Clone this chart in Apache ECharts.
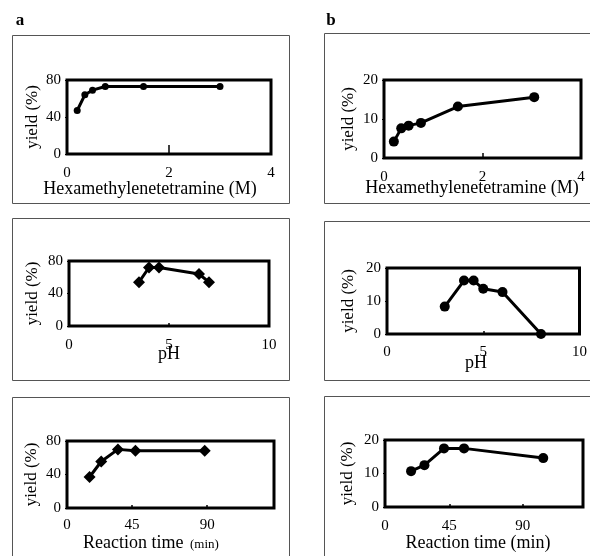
<!DOCTYPE html>
<html>
<head>
<meta charset="utf-8">
<script src="https://cdn.jsdelivr.net/npm/echarts@6/dist/echarts.min.js"></script>
<style>
  html, body { margin: 0; padding: 0; background: #fff; }
  #chart { width: 590px; height: 556px; }
</style>
</head>
<body>
<div id="chart"></div>
<script>
// ---- data ----
// a: top row, concentration of hexamethylenetetramine (M)
const hmtA = [0.2, 0.35, 0.5, 0.75, 1.5, 3.0]
const yieldHmtA = [47, 64, 69, 73, 73, 73]
// b: same concentrations
const hmtB = [0.2, 0.35, 0.5, 0.75, 1.5, 3.05]
const yieldHmtB = [4.2, 7.6, 8.3, 9.0, 13.2, 15.6]
// middle row, pH
const phA = [3.5, 4.0, 4.5, 6.5, 7.0]
const yieldPhA = [54, 72, 72, 64, 54]
const phB = [3.0, 4.0, 4.5, 5.0, 6.0, 8.0]
const yieldPhB = [8.3, 16.2, 16.2, 13.7, 12.7, 0]
// bottom row, reaction time (min)
const timeA = [19.5, 26.5, 36.5, 47, 88.5]
const yieldTimeA = [37, 55.5, 70, 68.5, 68.5]
const timeB = [21.5, 29.7, 41.7, 54, 102.6]
const yieldTimeB = [10.7, 12.5, 17.5, 17.5, 14.6]

// tick labels
const yTicksA = [0, 40, 80]
const yTicksB = [0, 10, 20]
const hmtTicks = [0, 2, 4]
const phTicks = [0, 5, 10]
const timeTicks = [45, 90]

const serif = '"Liberation Serif", "Times New Roman", serif'
const timeMinA = 6, timeMinB = 5.5

const grids = [
    { left: 67, top: 80, width: 204, height: 74 },
    { left: 384, top: 80, width: 197, height: 78 },
    { left: 69, top: 261, width: 200, height: 65 },
    { left: 387, top: 268, width: 195, height: 66 },
    { left: 67, top: 441, width: 207, height: 67 },
    { left: 385, top: 440, width: 198, height: 67 }
].map(g => Object.assign({ show: true, borderColor: '#000', borderWidth: 3, backgroundColor: 'transparent' }, g))

function xAxis(idx, min, max, interval, tickLen, margin, extra) {
    return Object.assign({
        type: 'value', gridIndex: idx, min, max, interval,
        axisLine: { show: false },
        splitLine: { show: false },
        axisTick: { show: true, inside: true, length: tickLen, lineStyle: { color: '#000', width: 1.5 } },
        axisLabel: { color: '#000', fontFamily: serif, fontSize: 15, margin, showMinLabel: true, showMaxLabel: true }
    }, extra || {})
}

function yAxis(idx, ticks, gap) {
    return {
        type: 'value', gridIndex: idx, min: ticks[0], max: ticks[ticks.length - 1],
        interval: ticks[1] - ticks[0],
        name: 'yield (%)', nameLocation: 'middle', nameGap: gap,
        nameTextStyle: { color: '#000', fontFamily: serif, fontSize: 17 },
        axisLine: { show: false },
        splitLine: { show: false },
        axisTick: { show: true, length: 2, lineStyle: { color: '#000' } },
        axisLabel: { color: '#000', fontFamily: serif, fontSize: 15, margin: 6 }
    }
}

function timeAxis(idx, min, max, margin) {
    return xAxis(idx, min, max, null, 3, margin, {
        axisTick: { show: true, inside: true, length: 3, customValues: timeTicks, lineStyle: { color: '#000', width: 1.5 } },
        axisLabel: {
            color: '#000', fontFamily: serif, fontSize: 15, margin,
            customValues: [min].concat(timeTicks),
            formatter: v => (v === min ? '0' : String(v))
        }
    })
}

function series(idx, xs, ys, symbol, size) {
    return {
        type: 'line', xAxisIndex: idx, yAxisIndex: idx,
        data: xs.map((x, i) => [x, ys[i]]),
        symbol, symbolSize: size, showSymbol: true, clip: false,
        lineStyle: { color: '#000', width: 3 },
        itemStyle: { color: '#000' },
        animation: false
    }
}

function box(x, y, w, h) {
    return { type: 'rect', shape: { x, y, width: w, height: h }, style: { fill: 'none', stroke: '#555', lineWidth: 1 }, silent: true }
}
function label(text, x, y, size, weight, align) {
    return {
        type: 'text', x, y, silent: true,
        style: { text, fill: '#000', font: (weight || 'normal') + ' ' + size + 'px ' + serif, textAlign: align || 'center', textVerticalAlign: 'middle' }
    }
}

const chart = echarts.init(document.getElementById('chart'), null, { renderer: 'canvas' })
chart.setOption({
    animation: false,
    grid: grids,
    xAxis: [
        xAxis(0, hmtTicks[0], hmtTicks[2], hmtTicks[1], 9, 12),
        xAxis(1, hmtTicks[0], hmtTicks[2], hmtTicks[1], 5, 12),
        xAxis(2, phTicks[0], phTicks[2], phTicks[1], 3, 12),
        xAxis(3, phTicks[0], phTicks[2], phTicks[1], 3, 11),
        timeAxis(4, timeMinA, 130, 10),
        timeAxis(5, timeMinB, 127, 12)
    ],
    yAxis: [
        yAxis(0, yTicksA, 26),
        yAxis(1, yTicksB, 27),
        yAxis(2, yTicksA, 28),
        yAxis(3, yTicksB, 30),
        yAxis(4, yTicksA, 27),
        yAxis(5, yTicksB, 29)
    ],
    series: [
        series(0, hmtA, yieldHmtA, 'circle', 7),
        series(1, hmtB, yieldHmtB, 'circle', 10),
        series(2, phA, yieldPhA, 'diamond', 12),
        series(3, phB, yieldPhB, 'circle', 10),
        series(4, timeA, yieldTimeA, 'diamond', 12),
        series(5, timeB, yieldTimeB, 'circle', 10)
    ],
    graphic: [
        box(12.5, 35.5, 277, 168),
        box(324.5, 33.5, 300, 170),
        box(12.5, 218.5, 277, 162),
        box(324.5, 221.5, 300, 159),
        box(12.5, 397.5, 277, 200),
        box(324.5, 396.5, 300, 200),
        label('a', 20, 21, 17, 'bold'),
        label('b', 331, 21, 17, 'bold'),
        label('Hexamethylenetetramine (M)', 150, 189, 18),
        label('Hexamethylenetetramine (M)', 472, 188, 18),
        label('pH', 169, 354, 18),
        label('pH', 476, 363, 18),
        label('Reaction time', 83, 543, 18, 'normal', 'left'),
        label('(min)', 190, 545, 13, 'normal', 'left'),
        label('Reaction time (min)', 478, 543, 18)
    ]
})
</script>
</body>
</html>
